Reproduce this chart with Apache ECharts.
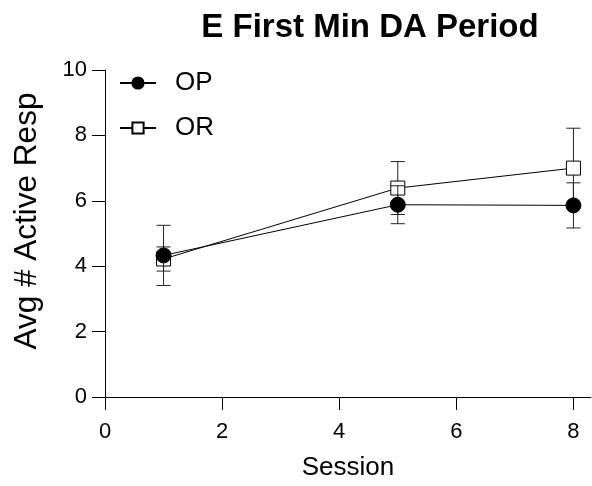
<!DOCTYPE html>
<html>
<head>
<meta charset="utf-8">
<script src="https://cdn.jsdelivr.net/npm/echarts@6/dist/echarts.min.js"></script>
<style>
  html, body { margin: 0; padding: 0; background: #fff; }
  #chart { width: 592px; height: 486px; }
</style>
</head>
<body>
<div id="chart"></div>
<script>
// Session numbers and group means with SEM
const sessions = [1, 5, 8];
const opMean = [4.33, 5.88, 5.86];
const opErr = [0.92, 0.58, 0.69];
const orMean = [4.22, 6.39, 7.0];
const orErr = [0.37, 0.81, 1.22];
const xTicks = [0, 2, 4, 6, 8];
const yTicks = [0, 2, 4, 6, 8, 10];

const FONT = '"Liberation Sans", Arial, sans-serif';

function pairs(xs, ys) { return xs.map((x, i) => [x, ys[i]]); }
function errRows(xs, m, e) { return xs.map((x, i) => [x, m[i] - e[i], m[i] + e[i]]); }

// vertical error bar with short caps
function renderErr(params, api) {
  const x = api.value(0);
  const lo = api.coord([x, api.value(1)]);
  const hi = api.coord([x, api.value(2)]);
  const half = 7;
  const style = { stroke: '#222', lineWidth: 1, fill: null };
  return {
    type: 'group',
    children: [
      { type: 'line', shape: { x1: lo[0], y1: lo[1], x2: hi[0], y2: hi[1] }, style },
      { type: 'line', shape: { x1: hi[0] - half, y1: hi[1], x2: hi[0] + half, y2: hi[1] }, style },
      { type: 'line', shape: { x1: lo[0] - half, y1: lo[1], x2: lo[0] + half, y2: lo[1] }, style }
    ]
  };
}

const chart = echarts.init(document.getElementById('chart'));
chart.setOption({
  animation: false,
  backgroundColor: '#fff',
  title: {
    text: 'E First Min DA Period',
    left: 365, top: 6, textAlign: 'center',
    textStyle: { fontFamily: FONT, fontWeight: 'bold', fontSize: 33, color: '#000' }
  },
  legend: {
    orient: 'vertical',
    left: 114, top: 65,
    itemWidth: 36, itemHeight: 14, itemGap: 19,
    data: ['OP', 'OR'],
    textStyle: { fontFamily: FONT, fontSize: 26, color: '#000', padding: [0, 0, 0, 14] }
  },
  grid: { left: 105, right: 1, top: 70, bottom: 88, containLabel: false },
  xAxis: {
    type: 'value', min: 0, max: 8.3,
    name: 'Session', nameLocation: 'middle', nameGap: 58,
    nameTextStyle: { fontFamily: FONT, fontSize: 26, color: '#000' },
    axisLine: { lineStyle: { color: '#000', width: 1 } },
    axisTick: { length: 13, lineStyle: { color: '#000' }, customValues: xTicks },
    axisLabel: { fontFamily: FONT, fontSize: 22, color: '#000', margin: 24, customValues: xTicks },
    splitLine: { show: false }
  },
  yAxis: {
    type: 'value', min: 0, max: 10, interval: 2,
    name: 'Avg # Active Resp', nameLocation: 'middle', nameGap: 62,
    nameTextStyle: { fontFamily: FONT, fontSize: 31.5, color: '#000', padding: [0, 0, 0, 25] },
    axisLine: { show: true, lineStyle: { color: '#000', width: 1 } },
    axisTick: { show: true, length: 13, lineStyle: { color: '#000' } },
    axisLabel: { fontFamily: FONT, fontSize: 22, color: '#000', margin: 18 },
    splitLine: { show: false }
  },
  series: [
    {
      name: 'OR-err', type: 'custom', z: 1,
      renderItem: renderErr, data: errRows(sessions, orMean, orErr),
      encode: { x: 0, y: [1, 2] }, silent: true
    },
    {
      name: 'OR', type: 'line', z: 2,
      data: pairs(sessions, orMean),
      symbol: 'rect', symbolSize: 14, showAllSymbol: true,
      lineStyle: { color: '#000', width: 1 },
      itemStyle: { color: '#fff', borderColor: '#000', borderWidth: 1 }
    },
    {
      name: 'OP-err', type: 'custom', z: 3,
      renderItem: renderErr, data: errRows(sessions, opMean, opErr),
      encode: { x: 0, y: [1, 2] }, silent: true
    },
    {
      name: 'OP', type: 'line', z: 4,
      data: pairs(sessions, opMean),
      symbol: 'circle', symbolSize: 15, showAllSymbol: true,
      lineStyle: { color: '#000', width: 1 },
      itemStyle: { color: '#000', borderColor: '#000', borderWidth: 1 }
    }
  ]
});
</script>
</body>
</html>
